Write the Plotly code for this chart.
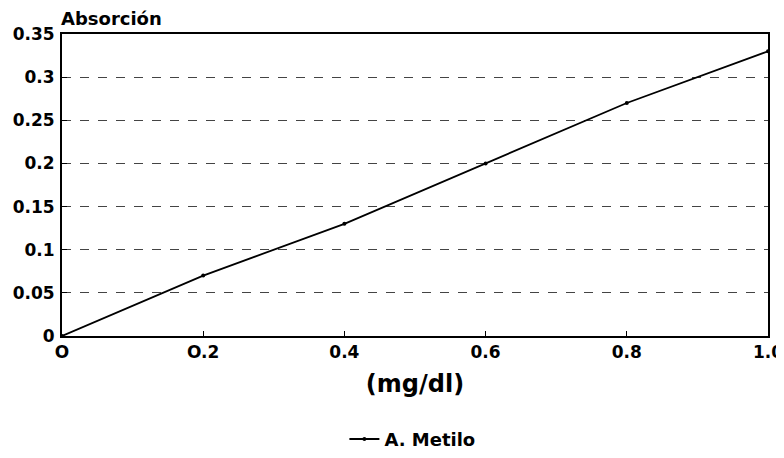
import plotly.graph_objects as go

conc = [0, 0.2, 0.4, 0.6, 0.8, 1.0]
absorcion = [0, 0.07, 0.13, 0.2, 0.27, 0.33]
x_tickvals = [0, 0.2, 0.4, 0.6, 0.8, 1.0]
x_ticktext = ["O", "O.2", "0.4", "0.6", "0.8", "1.0"]
y_tickvals = [0, 0.05, 0.1, 0.15, 0.2, 0.25, 0.3, 0.35]
y_ticktext = ["0", "0.05", "0.1", "0.15", "0.2", "0.25", "0.3", "0.35"]

fig = go.Figure()
fig.add_trace(go.Scatter(
    x=conc, y=absorcion, mode="lines+markers", name="A. Metilo",
    line=dict(color="black", width=1.8),
    marker=dict(color="black", size=4),
))

font_family = "DejaVu Sans, Verdana, sans-serif"
fig.update_layout(
    width=784, height=458,
    margin=dict(l=54, r=24, t=26, b=130, autoexpand=False),
    paper_bgcolor="white", plot_bgcolor="white",
    font=dict(family=font_family, color="black"),
    showlegend=True,
    legend=dict(orientation="h", x=0.40, xanchor="left", y=-0.342, yanchor="middle",
                font=dict(size=18, family=font_family, weight="bold")),
    xaxis=dict(
        range=[0, 1.0], tickvals=x_tickvals, ticktext=x_ticktext,
        tickfont=dict(size=17, weight="bold"),
        showline=True, linecolor="black", linewidth=2, mirror=True,
        showgrid=False, zeroline=False,
        ticks="inside", ticklen=5, tickcolor="black",
        title=dict(text="(mg/dl)", font=dict(size=24, weight="bold"), standoff=14),
    ),
    yaxis=dict(
        range=[0, 0.35], tickvals=y_tickvals, ticktext=y_ticktext,
        tickfont=dict(size=17, weight="bold"),
        showline=True, linecolor="black", linewidth=2, mirror=True,
        showgrid=True, gridcolor="#444444", gridwidth=1, griddash="dash",
        zeroline=False, ticklabelstandoff=2,
        ticks="inside", ticklen=5, tickcolor="black",
    ),
    annotations=[dict(
        text="Absorción", xref="paper", yref="paper", x=-0.004, y=1.0,
        xanchor="left", yanchor="bottom", yshift=3, showarrow=False,
        font=dict(size=18, weight="bold"),
    )],
)

fig.write_html("out.html")
